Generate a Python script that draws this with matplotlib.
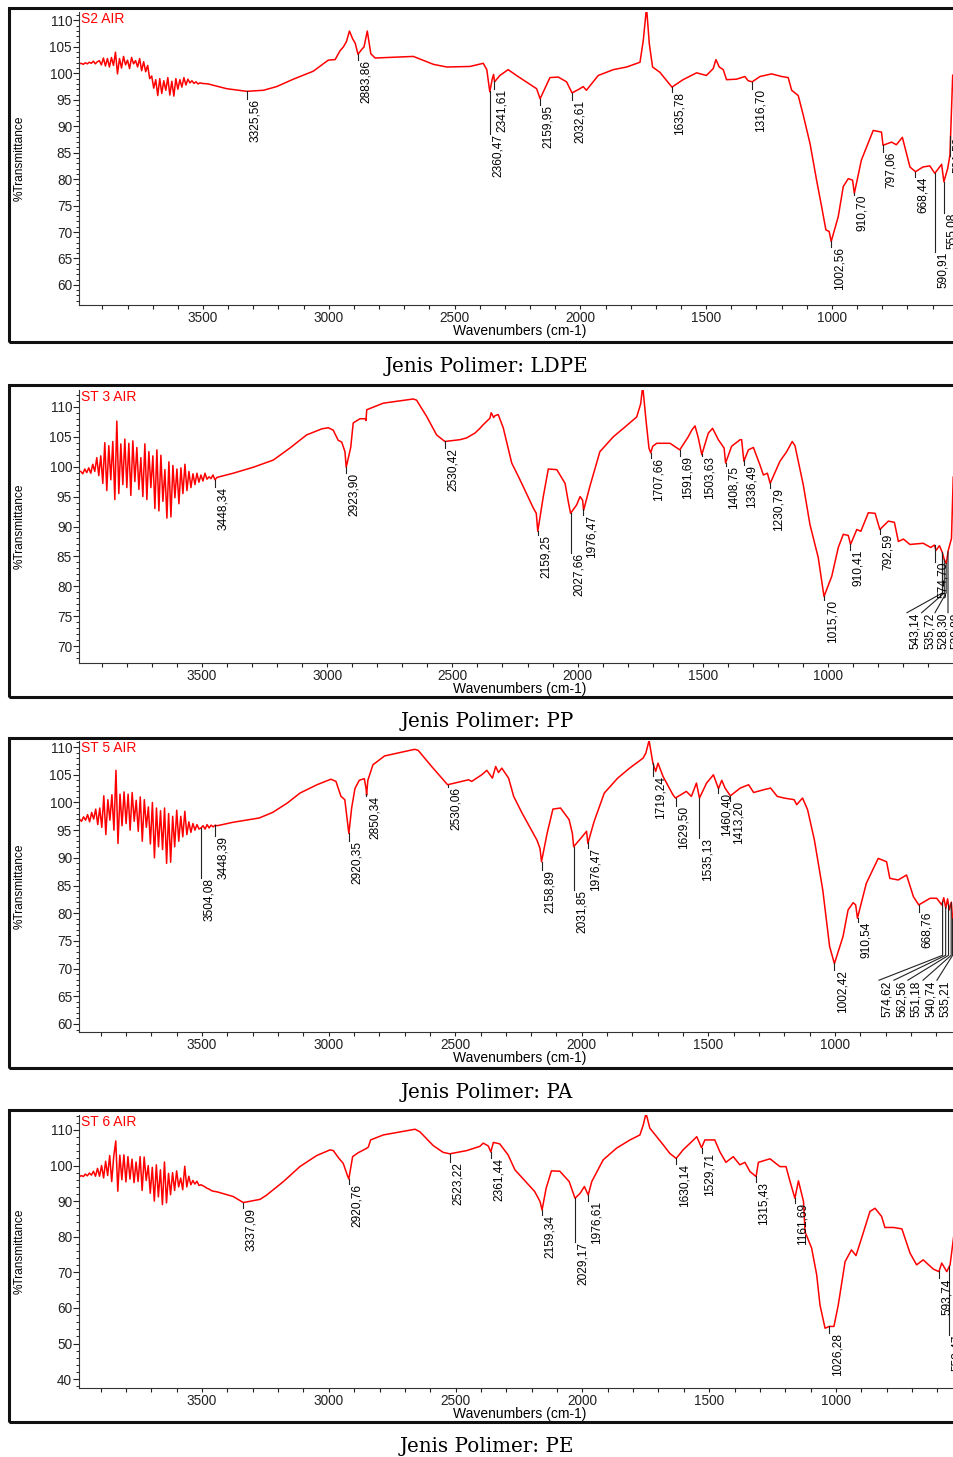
import numpy as np
import matplotlib
matplotlib.use('Agg')
import matplotlib.pyplot as plt
from matplotlib.patches import Rectangle
from matplotlib.ticker import MultipleLocator, FixedLocator
from matplotlib.transforms import offset_copy

plt.rcParams['font.family'] = ['Liberation Sans', 'DejaVu Sans']

# ---------------- S2 AIR  (LDPE) ----------------
ldpe_noise_wn = np.arange(3992, 3503, -8)
ldpe_noise_t = [101.8, 101.9, 101.7, 102.0, 101.8, 102.1, 101.9, 102.3, 101.8, 102.2,
                102.4, 101.6, 102.9, 101.4, 102.8, 101.2, 103.0, 101.5, 104.0, 99.9,
                102.8, 101.0, 103.2, 101.6, 102.5, 100.9, 103.0, 101.8, 102.4, 101.2,
                102.8, 100.5, 102.2, 100.3, 101.5, 99.0, 99.5, 97.2, 98.8, 95.8,
                99.0, 96.2, 98.6, 96.8, 99.2, 95.9, 98.5, 95.7, 99.0, 97.0,
                98.8, 97.4, 99.2, 97.8, 98.9, 98.2, 98.6, 98.1, 98.4, 98.0, 98.2, 98.1]
ldpe_wn = [3480, 3406, 3326, 3260, 3207, 3141, 3062, 3002, 2975, 2955, 2942, 2930, 2918, 2905,
           2895, 2884, 2868, 2860, 2847, 2833, 2816, 2664, 2584, 2531, 2439, 2386, 2372, 2360,
           2350, 2345, 2341, 2320, 2287, 2254, 2174, 2160, 2121, 2088, 2055, 2033, 2002, 1989,
           1976, 1929, 1869, 1816, 1763, 1750, 1737, 1726, 1713, 1684, 1636, 1592, 1538, 1499,
           1472, 1461, 1448, 1432, 1419, 1379, 1346, 1333, 1317, 1286, 1240, 1200, 1174, 1160,
           1134, 1114, 1087, 1061, 1041, 1024, 1011, 1003, 975, 955, 935, 918, 911, 883, 836,
           803, 797, 763, 744, 720, 690, 668, 638, 611, 591, 564, 555, 540, 531, 520, 505, 480]
ldpe_t = [98.0, 97.1, 96.6, 96.8, 97.5, 98.9, 100.4, 102.5, 102.6, 104.3, 105.0, 106.0, 108.0, 106.5,
          105.7, 103.6, 104.6, 105.0, 108.0, 103.7, 102.9, 103.2, 101.7, 101.2, 101.3, 101.9, 100.7, 96.5,
          99.0, 99.8, 98.4, 99.6, 100.7, 99.6, 97.1, 95.2, 99.2, 99.3, 98.4, 96.3, 97.1, 97.5,
          96.8, 99.6, 100.7, 101.2, 102.1, 106.2, 112.5, 105.6, 101.2, 100.2, 97.4, 98.8, 100.1, 99.6,
          100.9, 102.6, 101.2, 100.7, 98.8, 98.9, 99.4, 98.6, 98.4, 99.4, 99.9, 99.4, 99.2, 96.8,
          95.8, 92.1, 86.7, 79.8, 74.8, 70.4, 70.1, 68.2, 72.9, 78.6, 80.1, 79.8, 77.3, 83.6, 89.2,
          88.9, 86.4, 87.0, 86.5, 87.9, 82.3, 81.4, 82.3, 82.5, 81.1, 82.8, 79.5, 82.0, 84.5, 99.6, 100.5, 100.5]
ldpe_peaks = [3325.56, 2883.86, 2360.47, 2341.61, 2159.95, 2032.61, 1635.78, 1316.70,
              1002.56, 910.70, 797.06, 668.44, 590.91, 555.08, 531.53]
ldpe_ends = [95.2, 102.5, 88.6, 97.1, 94.0, 95.0, 96.5, 97.1,
             67.2, 77.0, 85.2, 80.4, 66.3, 73.6, 88.1]

# ---------------- ST 3 AIR  (PP) ----------------
pp_noise_wn = np.arange(3984, 3439, -8)
pp_noise_t = [99.2, 98.8, 99.6, 99.0, 99.8, 98.9, 100.4, 99.2, 101.5, 98.5,
              101.8, 97.2, 104.0, 96.0, 103.5, 97.8, 104.2, 94.5, 107.6, 95.5,
              103.8, 97.0, 104.6, 96.5, 103.9, 95.2, 104.3, 97.5, 103.2, 96.2,
              101.5, 95.0, 103.8, 94.5, 102.5, 96.5, 101.8, 93.0, 102.8, 92.6,
              101.9, 94.2, 99.5, 91.4, 100.8, 91.6, 100.2, 94.8, 99.6, 93.8,
              99.8, 95.5, 100.4, 96.0, 99.2, 96.5, 98.8, 97.0, 98.9, 97.4,
              98.6, 97.6, 98.9, 97.9, 98.3, 98.0, 98.6, 97.8, 98.2]
pp_wn = [3375, 3295, 3215, 3149, 3082, 3022, 2996, 2976, 2956, 2942, 2929, 2924, 2906, 2896,
         2869, 2848, 2845, 2842, 2776, 2656, 2643, 2603, 2563, 2530, 2470, 2443, 2410, 2390,
         2377, 2350, 2345, 2335, 2330, 2317, 2297, 2263, 2230, 2177, 2165, 2159, 2137, 2117,
         2083, 2050, 2037, 2028, 2004, 1990, 1980, 1976, 1951, 1911, 1857, 1817, 1764, 1748,
         1740, 1727, 1715, 1708, 1700, 1684, 1631, 1592, 1558, 1544, 1531, 1518, 1504, 1478,
         1461, 1438, 1415, 1409, 1385, 1351, 1345, 1336, 1318, 1298, 1272, 1258, 1242, 1231,
         1192, 1165, 1143, 1132, 1099, 1072, 1039, 1025, 1016, 985, 959, 939, 919, 910, 885,
         869, 839, 812, 793, 759, 735, 719, 699, 673, 620, 590, 575, 569, 555, 543, 536, 528,
         520, 507, 500, 480]
pp_t = [98.9, 99.9, 101.1, 103.1, 105.3, 106.3, 106.5, 106.1, 104.4, 104.1, 102.5, 99.9, 103.2, 107.3,
        108.0, 108.0, 107.7, 109.5, 110.6, 111.3, 111.1, 108.4, 105.3, 104.2, 104.5, 104.8, 105.6, 106.4,
        107.0, 108.1, 109.0, 108.2, 108.5, 108.7, 106.5, 100.6, 97.8, 93.1, 92.2, 89.2, 95.0, 99.6,
        99.5, 97.2, 94.1, 92.2, 93.6, 95.0, 94.4, 92.7, 96.7, 102.5, 105.0, 106.4, 108.3, 110.5,
        113.5, 107.8, 103.1, 102.3, 103.4, 103.9, 103.9, 102.8, 105.0, 106.1, 106.8, 104.8, 102.0, 105.6,
        106.4, 104.5, 103.1, 100.6, 103.4, 104.5, 104.5, 100.9, 102.8, 103.2, 100.3, 98.6, 98.9, 97.2,
        100.9, 102.5, 104.2, 103.5, 97.0, 90.3, 84.8, 80.9, 78.3, 81.7, 86.5, 88.7, 88.5, 87.0, 89.5,
        89.2, 92.3, 92.2, 89.5, 90.9, 90.7, 87.5, 87.9, 87.0, 87.2, 86.5, 86.9, 86.0, 86.8, 85.6, 84.5, 83.8,
        86.0, 88.0, 98.3, 99.0]
pp_peaks = [3448.34, 2923.90, 2530.42, 2159.25, 2027.66, 1976.47, 1707.66, 1591.69, 1503.63,
            1408.75, 1336.49, 1230.79, 1015.70, 910.41, 792.59, 574.70]
pp_ends = [96.6, 98.9, 103.1, 88.6, 85.5, 91.9, 101.4, 101.8, 101.8,
           100.1, 100.3, 96.4, 77.7, 86.1, 88.8, 84.1]
pp_fan = [543.14, 535.72, 528.30, 520.88]
pp_fan_text = [685, 626, 573, 521]

# ---------------- ST 5 AIR  (PA) ----------------
pa_noise_wn = np.arange(3984, 3439, -8)
pa_noise_t = [97.0, 96.6, 97.4, 96.8, 97.8, 96.5, 98.2, 97.0, 98.8, 96.0,
              99.0, 95.5, 101.2, 94.2, 100.5, 96.8, 101.4, 95.0, 105.8, 92.6,
              101.5, 95.8, 101.9, 96.2, 101.5, 95.0, 101.8, 96.6, 100.4, 94.8,
              101.0, 93.0, 100.5, 95.5, 99.2, 92.5, 100.0, 90.0, 99.0, 92.0,
              98.5, 91.5, 99.0, 89.0, 98.0, 89.2, 97.5, 92.0, 98.6, 93.0,
              97.5, 93.8, 98.4, 94.2, 96.5, 94.6, 96.2, 95.0, 96.0, 95.2,
              95.4, 95.8, 95.2, 96.0, 95.4, 95.9, 95.6, 95.9, 95.8]
pa_wn = [3380, 3274, 3221, 3163, 3113, 3046, 2991, 2971, 2951, 2936, 2920, 2909, 2896, 2879,
         2859, 2852, 2850, 2845, 2825, 2779, 2660, 2646, 2593, 2553, 2530, 2447, 2435, 2395,
         2375, 2353, 2340, 2329, 2316, 2289, 2269, 2236, 2177, 2165, 2159, 2137, 2114, 2084,
         2050, 2037, 2032, 1997, 1981, 1976, 1951, 1911, 1858, 1811, 1758, 1747, 1734, 1719,
         1708, 1699, 1679, 1640, 1630, 1587, 1567, 1547, 1535, 1507, 1480, 1460, 1447, 1434,
         1413, 1374, 1341, 1321, 1281, 1254, 1228, 1201, 1161, 1151, 1128, 1108, 1081, 1048,
         1021, 1015, 1002, 968, 948, 928, 918, 911, 876, 829, 796, 783, 750, 717, 690, 669,
         624, 598, 578, 570, 562, 555, 548, 540, 535, 525, 514, 500, 480]
pa_t = [96.4, 97.2, 98.2, 99.9, 101.7, 103.2, 104.2, 103.8, 101.1, 100.5, 94.4, 99.0, 102.5, 104.0,
        104.3, 102.5, 101.3, 104.0, 106.8, 108.4, 109.6, 109.4, 106.5, 104.4, 103.2, 104.1, 103.8, 105.0,
        105.8, 104.4, 106.5, 105.4, 106.2, 104.4, 101.1, 98.1, 93.2, 91.7, 89.3, 94.4, 98.8, 99.0,
        96.9, 94.4, 92.0, 93.9, 94.8, 92.6, 96.6, 101.7, 104.4, 106.2, 108.0, 108.9, 111.2, 107.1,
        105.6, 107.1, 104.7, 101.4, 100.8, 102.0, 101.1, 103.5, 100.8, 103.5, 105.0, 102.5, 104.0, 102.6,
        101.2, 102.6, 103.2, 101.8, 102.3, 102.6, 101.1, 100.8, 100.5, 99.6, 100.8, 98.7, 93.2, 84.2,
        74.0, 73.0, 70.9, 75.8, 80.6, 81.9, 81.5, 79.1, 85.4, 89.9, 89.3, 86.3, 86.0, 86.9, 83.0, 81.5,
        82.7, 82.7, 81.5, 82.8, 80.9, 82.6, 80.6, 82.0, 78.8, 79.5, 88.5, 89.0, 89.0]
pa_peaks = [3504.08, 3448.39, 2920.35, 2850.34, 2530.06, 2158.89, 2031.85, 1976.47, 1719.24,
            1629.50, 1535.13, 1460.40, 1413.20, 1002.42, 910.54, 668.76]
pa_ends = [86.3, 93.9, 93.1, 101.1, 102.8, 87.8, 84.2, 91.7, 104.7,
           99.4, 93.5, 101.7, 100.2, 69.7, 78.5, 80.3]
pa_fan = [574.62, 562.56, 551.18, 540.74, 535.21]
pa_fan_text = [826, 767, 712, 652, 597]

# ---------------- ST 6 AIR  (PE) ----------------
pe_noise_wn = np.arange(3984, 3439, -8)
pe_noise_t = [96.8, 97.2, 96.9, 97.6, 97.1, 97.9, 97.3, 98.4, 97.0, 99.2,
              97.0, 100.0, 96.5, 101.2, 97.2, 102.8, 95.5, 102.6, 106.9, 92.8,
              102.9, 96.0, 103.0, 95.4, 102.5, 96.2, 101.8, 95.2, 101.0, 95.5,
              102.5, 93.0, 102.4, 95.8, 100.0, 92.2, 99.5, 90.0, 100.2, 91.2,
              98.8, 89.0, 101.0, 89.5, 97.8, 91.8, 98.0, 93.0, 98.5, 94.0,
              96.5, 93.2, 99.8, 94.0, 97.0, 94.6, 95.8, 94.8, 95.6, 94.4,
              94.6, 94.3, 94.0, 93.6, 93.4, 93.0, 92.8, 92.7, 92.6]
pe_wn = [3377, 3337, 3271, 3245, 3179, 3114, 3048, 2995, 2982, 2962, 2943, 2927, 2921, 2906,
         2884, 2852, 2844, 2835, 2785, 2660, 2641, 2588, 2549, 2523, 2456, 2404, 2391, 2371,
         2361, 2351, 2326, 2293, 2266, 2188, 2167, 2159, 2143, 2122, 2089, 2052, 2029, 2009,
         1992, 1977, 1963, 1918, 1865, 1812, 1773, 1760, 1749, 1734, 1707, 1681, 1655, 1630,
         1603, 1569, 1549, 1530, 1517, 1478, 1458, 1434, 1405, 1379, 1359, 1339, 1315, 1306,
         1260, 1221, 1197, 1181, 1162, 1148, 1128, 1122, 1096, 1076, 1063, 1043, 1026, 1008,
         991, 964, 939, 921, 899, 866, 846, 820, 807, 773, 740, 708, 682, 656, 616, 594,
         583, 563, 550, 540, 530, 515, 500, 480]
pe_t = [91.3, 89.6, 90.5, 91.7, 95.5, 99.7, 102.8, 104.4, 104.2, 102.2, 100.6, 97.3, 96.2, 102.5,
        103.6, 104.8, 105.2, 107.2, 108.6, 110.2, 109.5, 105.6, 103.7, 103.3, 104.2, 105.4, 106.3, 105.5,
        103.8, 106.5, 106.1, 103.0, 98.8, 92.7, 89.9, 87.5, 93.6, 98.5, 98.4, 95.5, 90.8, 92.2,
        94.1, 91.7, 95.5, 101.6, 104.9, 107.2, 108.6, 111.4, 114.7, 110.5, 108.1, 105.8, 103.4, 102.0,
        104.4, 106.7, 108.1, 105.0, 107.2, 107.2, 103.9, 100.9, 102.5, 100.2, 100.9, 98.3, 96.9, 100.9,
        101.9, 99.7, 99.7, 95.5, 90.8, 95.7, 89.9, 81.4, 76.8, 69.3, 60.8, 54.3, 54.8, 54.8,
        60.8, 73.0, 76.3, 74.7, 79.6, 87.1, 88.0, 85.7, 82.6, 82.6, 82.2, 75.4, 72.1, 73.5, 70.9, 70.2,
        72.6, 70.2, 72.1, 77.7, 83.3, 84.0, 84.0, 84.0]
pe_peaks = [3337.09, 2920.76, 2523.22, 2361.44, 2159.34, 2029.17, 1976.61, 1630.14, 1529.71,
            1315.43, 1161.69, 1026.28, 593.74, 552.47]
pe_ends = [88.0, 94.7, 101.1, 102.0, 86.1, 78.6, 89.9, 100.4, 103.4,
           95.5, 89.4, 52.9, 68.3, 52.4]

x_major = [3500, 3000, 2500, 2000, 1500, 1000]
x_minor = list(range(3900, 599, -100))

W, H = 954, 1457
fig = plt.figure(figsize=(W / 100, H / 100), dpi=100)


def label(v):
    return f'{v:.2f}'.replace('.', ',')


def panel(top, bottom, frame, xlim, ylim, ystep, yminor, name, caption,
          noise_wn, noise_t, wn, tr, peaks, ends, fan=None, fan_text=None, fan_y=None):
    ax = fig.add_axes([79 / W, 1 - bottom / H, (962 - 79) / W, (bottom - top) / H])
    x = np.concatenate([noise_wn, wn])
    y = np.concatenate([noise_t, tr])
    ax.plot(x, y, color='#ff0000', lw=1.1)
    ax.set_xlim(xlim)
    ax.set_ylim(ylim)
    ax.xaxis.set_major_locator(FixedLocator(x_major))
    ax.xaxis.set_minor_locator(FixedLocator(x_minor))
    ax.yaxis.set_major_locator(MultipleLocator(ystep))
    ax.yaxis.set_minor_locator(MultipleLocator(yminor))
    ax.tick_params(axis='x', which='both', direction='out', length=3, width=0.8,
                   labelsize=9.8, pad=1, colors='#222222')
    ax.tick_params(axis='y', which='major', direction='out', length=4, width=0.8,
                   labelsize=9.8, pad=1, colors='#222222')
    ax.tick_params(axis='y', which='minor', direction='out', length=2, width=0.6)
    for s in ['top', 'right']:
        ax.spines[s].set_visible(False)
    for s in ['left', 'bottom']:
        ax.spines[s].set_linewidth(0.8)
        ax.spines[s].set_color('#333333')
    ax.text(0.002, 1.0, name, transform=ax.transAxes, color='#ff0000',
            fontsize=10, ha='left', va='top')

    # peak markers
    xs, ys = x[::-1], y[::-1]
    shift = offset_copy(ax.transData, fig=fig, x=2, y=0, units='dots')
    for p, e in zip(peaks, ends):
        y0 = np.interp(p, xs, ys)
        ax.plot([p, p], [y0, e], color='#222222', lw=0.8)
        ax.text(p, e, label(p), rotation=90, ha='left', va='top',
                fontsize=8.6, transform=shift)
    if fan is not None:
        for p, tx in zip(fan, fan_text):
            y0 = np.interp(p, xs, ys)
            ax.plot([p, p, tx], [y0, fan_y[0], fan_y[1]], color='#222222', lw=0.8)
            ax.text(tx, fan_y[1], label(p), rotation=90, ha='left', va='top',
                    fontsize=8.6, transform=shift)

    # frame, axis titles, caption
    fig.add_artist(Rectangle((9 / W, 1 - frame[1] / H), (980 - 9) / W, (frame[1] - frame[0]) / H,
                             transform=fig.transFigure, fill=False, lw=2.2, edgecolor='#111111'))
    fig.text(20 / W, 1 - (top + bottom) / 2 / H, '%Transmittance', rotation=90,
             ha='center', va='center', fontsize=8.6)
    fig.text(520 / W, 1 - (bottom + 26) / H, 'Wavenumbers (cm-1)',
             ha='center', va='center', fontsize=10)
    fig.text(487 / W, 1 - (frame[1] + 24) / H, caption, ha='center', va='center',
             fontsize=14.3, family='DejaVu Serif')
    return ax


panel(12, 305, (8, 342), (3993, 483), (56.2, 111.6), 5, 1, 'S2 AIR', 'Jenis Polimer: LDPE',
      ldpe_noise_wn, ldpe_noise_t, ldpe_wn, ldpe_t, ldpe_peaks, ldpe_ends)
panel(390, 663, (385, 697), (3991, 465), (67.2, 112.8), 5, 1, 'ST 3 AIR', 'Jenis Polimer: PP',
      pp_noise_wn, pp_noise_t, pp_wn, pp_t, pp_peaks, pp_ends,
      pp_fan, pp_fan_text, (78.9, 75.6))
panel(741, 1032, (738, 1068), (3986, 498), (58.55, 111.1), 5, 1, 'ST 5 AIR', 'Jenis Polimer: PA',
      pa_noise_wn, pa_noise_t, pa_wn, pa_t, pa_peaks, pa_ends,
      pa_fan, pa_fan_text, (72.4, 67.9))
panel(1115, 1388, (1110, 1422), (3985, 503), (37.5, 114.2), 10, 2, 'ST 6 AIR', 'Jenis Polimer: PE',
      pe_noise_wn, pe_noise_t, pe_wn, pe_t, pe_peaks, pe_ends)

fig.savefig('out.png', dpi=100)
